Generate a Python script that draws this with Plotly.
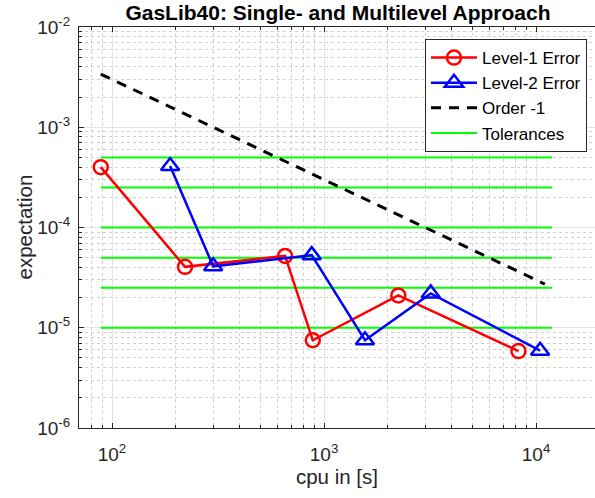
import numpy as np
import plotly.graph_objects as go

# ---- data ----
cpu_L1 = [88.5, 221, 655, 885, 2240, 8260]
err_L1 = [4.0e-4, 4.05e-5, 5.2e-5, 7.5e-6, 2.1e-5, 5.85e-6]
cpu_L2 = [188, 300, 875, 1560, 3185, 10450]
err_L2 = [4.1e-4, 4.1e-5, 5.3e-5, 7.5e-6, 2.2e-5, 5.9e-6]
order_x = [88.5, 11000]
order_const = 0.3
tolerances = [5e-4, 2.5e-4, 1e-4, 5e-5, 2.5e-5, 1e-5]
tol_x = [88.5, 11900]

x_ticks = [1e2, 1e3, 1e4]
x_ticktext = ["10<sup>2</sup>", "10<sup>3</sup>", "10<sup>4</sup>"]
y_ticks = [1e-6, 1e-5, 1e-4, 1e-3, 1e-2]
y_ticktext = ["10<sup>-6</sup>", "10<sup>-5</sup>", "10<sup>-4</sup>", "10<sup>-3</sup>", "10<sup>-2</sup>"]

FONT = "Liberation Sans, Arial, sans-serif"
AX = "#262626"

fig = go.Figure()

for i, t in enumerate(tolerances):
    fig.add_trace(go.Scatter(
        x=tol_x, y=[t, t], mode="lines", name="Tolerances",
        line=dict(color="#00ff00", width=2), legendgroup="tol",
        showlegend=False))

fig.add_trace(go.Scatter(
    x=cpu_L1, y=err_L1, mode="lines+markers", name="Level-1 Error",
    line=dict(color="#ff0000", width=2.5),
    marker=dict(symbol="circle-open", size=14, color="#ff0000",
                line=dict(width=2.5, color="#ff0000"))))
fig.add_trace(go.Scatter(
    x=cpu_L2, y=err_L2, mode="lines+markers", name="Level-2 Error",
    line=dict(color="#0000ff", width=2.5),
    marker=dict(symbol="triangle-up-open", size=16, color="#0000ff",
                line=dict(width=2.5, color="#0000ff"))))
fig.add_trace(go.Scatter(
    x=order_x, y=[order_const / v for v in order_x], mode="lines",
    name="Order -1", line=dict(color="black", width=3, dash="10px,8px")))
fig.add_trace(go.Scatter(
    x=[None], y=[None], mode="lines", name="Tolerances",
    line=dict(color="#00ff00", width=2), legendgroup="tol"))

axis_common = dict(
    type="log", showline=True, linecolor=AX, linewidth=1,
    ticks="inside", ticklen=5, tickcolor=AX, tickwidth=1,
    showgrid=True, gridcolor="#e3e3e3", gridwidth=1,
    zeroline=False,
    tickfont=dict(family=FONT, size=19, color=AX),
    minor=dict(dtick="D1", ticks="inside", ticklen=3, tickcolor=AX,
               showgrid=True, gridcolor="#d0d0d0", griddash="dot", gridwidth=1),
)

fig.update_xaxes(
    **axis_common,
    range=[1.8443, 4.278],
    tickvals=x_ticks, ticktext=x_ticktext, mirror="ticks",
    ticklabelstandoff=9,
    title=dict(text="cpu in [s]", font=dict(family=FONT, size=20.5, color=AX), standoff=5),
)
fig.update_yaxes(
    **axis_common,
    range=[-6, -2],
    tickvals=y_ticks, ticktext=y_ticktext, mirror=False,
    ticklabelstandoff=4,
)

fig.add_annotation(
    text="expectation", xref="paper", yref="paper",
    x=(24 - 79) / 516, y=0.5, xanchor="center", yanchor="middle",
    textangle=-90, showarrow=False,
    font=dict(family=FONT, size=20.5, color=AX))

fig.update_layout(
    width=595, height=498,
    margin=dict(l=79, r=0, t=27, b=70),
    paper_bgcolor="white", plot_bgcolor="white",
    title=dict(text="<b>GasLib40: Single- and Multilevel Approach</b>",
               font=dict(family=FONT, size=21, color="black"),
               x=0.568, xanchor="center", y=0.974, yanchor="middle"),
    legend=dict(x=(587 - 79) / 516, y=0.97, xanchor="right", yanchor="top",
                bgcolor="white", bordercolor=AX, borderwidth=1,
                font=dict(family=FONT, size=17, color="black"),
                itemwidth=46, tracegroupgap=0),
    showlegend=True,
)

fig.write_html("out.html", config={"displayModeBar": False},
               post_script="document.body.style.margin='0';document.body.style.overflow='hidden';")
